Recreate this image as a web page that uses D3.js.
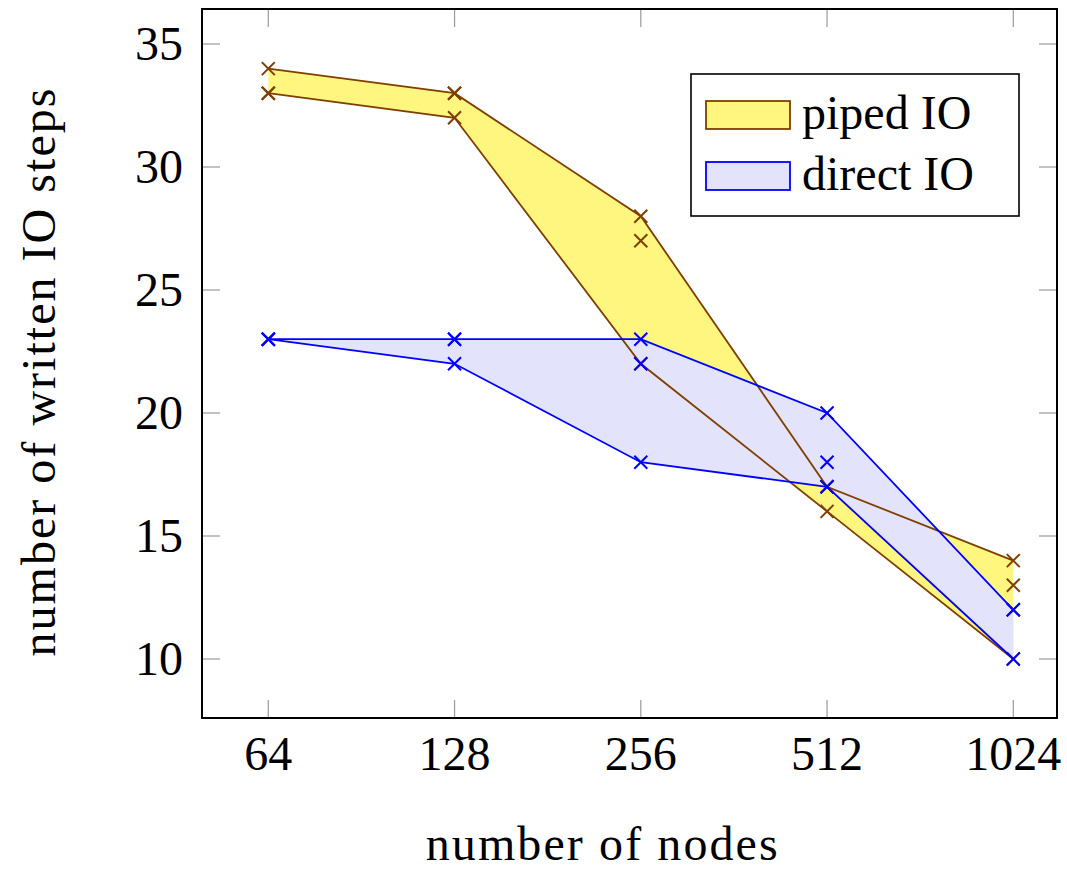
<!DOCTYPE html>
<html>
<head>
<meta charset="utf-8">
<script src="https://cdn.jsdelivr.net/npm/d3@7"></script>
<style>
  body { margin: 0; background: #fff; }
  svg text { font-family: "Liberation Serif", serif; fill: #000; }
</style>
</head>
<body>
<svg width="1067" height="873"></svg>
<script>
// data
const nodes = [64, 128, 256, 512, 1024];
const pipedMax = [34, 33, 28, 17, 14];
const pipedMin = [33, 32, 22, 16, 10];
const pipedMid = [33, 33, 27, 17, 13];
const directMax = [23, 23, 23, 20, 12];
const directMin = [23, 22, 18, 17, 10];
const directMid = [23, 23, 22, 18, 12];
const yTicks = [10, 15, 20, 25, 30, 35];
const xLabel = 'number of nodes';
const yLabel = 'number of written IO steps';

const svg = d3.select('svg');
const frame = { left: 202, right: 1057, top: 9, bottom: 718 };

const xScale = d3.scaleLog().base(2)
  .domain([64, 1024])
  .range([268.3, 1013.3]);

const yScale = d3.scaleLinear()
  .domain([10, 35])
  .range([659, 44]);

const brown = '#7f3f00';
const blue = '#0000ff';
const tickLen = 18;

// ticks (inside, all four sides)
const tickG = svg.append('g')
  .attr('stroke', '#9a9a9a')
  .attr('stroke-width', 1.2);
nodes.forEach(n => {
  tickG.append('line')
    .attr('x1', xScale(n)).attr('x2', xScale(n))
    .attr('y1', frame.bottom).attr('y2', frame.bottom - tickLen);
  tickG.append('line')
    .attr('x1', xScale(n)).attr('x2', xScale(n))
    .attr('y1', frame.top).attr('y2', frame.top + tickLen);
});
yTicks.forEach(t => {
  tickG.append('line')
    .attr('x1', frame.left).attr('x2', frame.left + tickLen)
    .attr('y1', yScale(t)).attr('y2', yScale(t));
  tickG.append('line')
    .attr('x1', frame.right).attr('x2', frame.right - tickLen)
    .attr('y1', yScale(t)).attr('y2', yScale(t));
});

// filled bands
const band = (lo, hi) => d3.area()
  .x((d, i) => xScale(nodes[i]))
  .y0((d, i) => yScale(lo[i]))
  .y1((d, i) => yScale(hi[i]));

svg.append('path')
  .attr('d', band(pipedMin, pipedMax)(nodes))
  .attr('fill', '#fff67f');

svg.append('path')
  .attr('d', band(directMin, directMax)(nodes))
  .attr('fill', '#e3e3fb');

// lines and markers
const line = vals => d3.line()
  .x((d, i) => xScale(nodes[i]))
  .y((d, i) => yScale(vals[i]))(nodes);

const cross = (g, vals, color) => {
  const s = 6.5;
  nodes.forEach((n, i) => {
    const cx = xScale(n), cy = yScale(vals[i]);
    g.append('path')
      .attr('d', `M${cx - s},${cy - s}L${cx + s},${cy + s}M${cx - s},${cy + s}L${cx + s},${cy - s}`)
      .attr('stroke', color)
      .attr('stroke-width', 2)
      .attr('fill', 'none');
  });
};

const series = [
  { lines: [pipedMax, pipedMin], marks: [pipedMax, pipedMin, pipedMid], color: brown },
  { lines: [directMax, directMin], marks: [directMax, directMin, directMid], color: blue }
];

series.forEach(s => {
  const g = svg.append('g');
  s.lines.forEach(vals => {
    g.append('path')
      .attr('d', line(vals))
      .attr('fill', 'none')
      .attr('stroke', s.color)
      .attr('stroke-width', 1.8);
  });
  s.marks.forEach(vals => cross(g, vals, s.color));
});

// frame
svg.append('rect')
  .attr('x', frame.left).attr('y', frame.top)
  .attr('width', frame.right - frame.left)
  .attr('height', frame.bottom - frame.top)
  .attr('fill', 'none')
  .attr('stroke', '#000')
  .attr('stroke-width', 2);

// tick labels
svg.append('g').selectAll('text').data(nodes)
  .enter().append('text')
    .attr('x', d => xScale(d))
    .attr('y', 770)
    .attr('text-anchor', 'middle')
    .attr('font-size', 48)
    .text(d => d);

svg.append('g').selectAll('text').data(yTicks)
  .enter().append('text')
    .attr('x', 183)
    .attr('y', d => yScale(d))
    .attr('dy', '0.34em')
    .attr('text-anchor', 'end')
    .attr('font-size', 48)
    .text(d => d);

// axis labels
svg.append('text')
  .attr('x', 601.7)
  .attr('y', 860)
  .attr('text-anchor', 'middle')
  .attr('font-size', 48)
  .attr('textLength', 352)
  .attr('lengthAdjust', 'spacing')
  .text(xLabel);

svg.append('text')
  .attr('transform', 'translate(55,372.5) rotate(-90)')
  .attr('text-anchor', 'middle')
  .attr('font-size', 48)
  .attr('textLength', 568)
  .attr('lengthAdjust', 'spacing')
  .text(yLabel);

// legend
const legend = svg.append('g');
legend.append('rect')
  .attr('x', 691).attr('y', 74)
  .attr('width', 328).attr('height', 142)
  .attr('fill', '#fff')
  .attr('stroke', '#000')
  .attr('stroke-width', 1.6);

const legendItems = [
  { label: 'piped IO', fill: '#fff67f', stroke: brown },
  { label: 'direct IO', fill: '#e3e3fb', stroke: blue }
];
legendItems.forEach((d, i) => {
  const y0 = 101 + i * 61;
  legend.append('rect')
    .attr('x', 706).attr('y', y0)
    .attr('width', 84).attr('height', 28)
    .attr('fill', d.fill)
    .attr('stroke', d.stroke)
    .attr('stroke-width', 1.8);
  legend.append('text')
    .attr('x', 802)
    .attr('y', y0 + 27.5)
    .attr('font-size', 48)
    .text(d.label);
});
</script>
</body>
</html>
